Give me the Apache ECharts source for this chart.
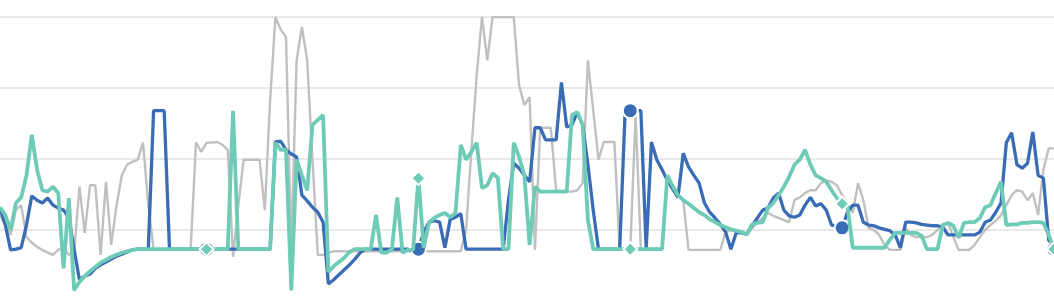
<!DOCTYPE html>
<html>
<head>
<meta charset="utf-8">
<script src="https://cdn.jsdelivr.net/npm/echarts@6/dist/echarts.min.js"></script>
<style>
html,body{margin:0;padding:0;background:#fff;}
#chart{width:1054px;height:297px;}
</style>
</head>
<body>
<div id="chart"></div>
<script>
// ---- data ----
const categories = [];
for (let i = 1; i <= 200; i++) categories.push(String(i));

const yTicks = [0, 100, 200, 300, 400];

const seriesGray = [
  121,107,93,128,135,90,82,76,72,68,
  65,72,75,65,68,161,96,163,163,65,
  168,79,135,177,192,196,199,223,135,73,
  73,73,73,73,73,73,73,223,210,223,
  223,224,220,213,62,135,199,199,199,199,
  128,283,400,382,372,75,339,386,339,199,
  65,65,68,70,70,70,70,70,70,70,
  70,70,70,70,70,70,70,70,70,70,
  70,70,70,70,70,70,70,70,100,213,
  318,400,339,400,400,400,400,400,304,276,
  287,72,244,244,244,156,154,154,154,156,
  166,339,269,199,224,224,224,73,73,73,
  262,73,73,73,73,73,173,159,149,142,
  72,72,72,72,72,72,72,97,100,99,
  97,94,103,111,117,124,120,117,114,111,
  142,146,152,156,156,166,170,168,163,149,
  138,124,166,142,103,100,93,79,72,72,
  72,103,93,90,90,90,93,100,107,110,
  90,72,72,72,79,90,100,107,113,121,
  135,149,156,154,142,152,121,185,215,215
];

const seriesBlue = [
  131,107,72,73,75,107,148,142,138,145,
  135,131,128,117,72,30,35,38,46,51,
  55,59,63,66,69,72,73,73,73,268,
  268,268,73,73,73,73,73,73,73,73,
  73,73,73,73,73,73,73,73,73,73,
  73,73,224,225,213,207,203,149,141,132,
  125,111,24,30,37,44,51,59,68,73,
  73,73,73,73,73,73,73,73,69,73,
  97,111,113,111,75,115,118,123,73,73,
  73,73,73,73,73,73,142,194,187,177,
  168,244,244,227,227,227,308,245,248,266,
  248,192,128,73,73,73,73,73,262,268,
  268,268,73,224,199,185,170,158,146,208,
  189,177,166,138,125,117,108,97,73,96,
  96,94,106,117,128,131,145,152,128,120,
  118,121,135,146,134,137,128,107,106,103,
  125,135,135,111,107,106,103,101,99,93,
  75,111,111,110,108,107,106,106,104,93,
  93,93,93,93,93,97,111,114,125,138,
  223,237,192,187,194,238,177,173,86,73
];

const seriesTeal = [
  132,121,100,138,146,177,234,185,156,154,
  161,152,46,145,15,27,35,42,48,54,
  58,62,65,68,70,72,73,73,73,73,
  73,73,73,73,73,73,73,73,73,73,
  73,73,73,73,268,73,73,73,73,73,
  73,73,223,213,213,15,199,177,156,248,
  255,262,41,49,55,61,69,73,73,73,
  73,121,68,68,73,146,68,72,72,173,
  75,111,117,121,124,118,124,220,199,210,
  223,159,163,180,173,73,73,223,203,177,
  79,161,154,154,154,154,154,154,262,266,
  248,114,73,73,73,73,73,73,73,73,
  73,73,73,73,73,73,177,162,149,142,
  137,131,125,121,115,111,107,104,101,99,
  97,94,108,110,111,131,138,149,161,175,
  192,199,213,192,177,173,168,156,145,137,
  134,75,75,75,75,75,75,75,86,96,
  96,96,96,96,92,73,73,73,107,110,
  106,89,110,111,111,117,132,135,152,168,
  107,108,108,110,110,111,111,110,93,73
];

const markerIndices = [39, 79, 119, 159, 199];

// ---- chart ----
function withMarkers(values, symbol, size) {
  return values.map(function (v, i) {
    if (markerIndices.indexOf(i) >= 0) {
      return { value: v, symbol: symbol, symbolSize: size };
    }
    return { value: v, symbol: 'none' };
  });
}

const chart = echarts.init(document.getElementById('chart'), null, { renderer: 'canvas' });
chart.setOption({
  animation: false,
  backgroundColor: '#ffffff',
  grid: { left: 0, right: 0, top: 17, height: 284, containLabel: false, outerBoundsMode: 'none' },
  xAxis: {
    type: 'category',
    data: categories,
    boundaryGap: false,
    axisLine: { show: false },
    axisTick: { show: false },
    axisLabel: { show: false },
    splitLine: { show: false }
  },
  yAxis: {
    type: 'value',
    min: yTicks[0],
    max: yTicks[yTicks.length - 1],
    interval: yTicks[1] - yTicks[0],
    axisLine: { show: false },
    axisTick: { show: false },
    axisLabel: { show: false },
    splitLine: { show: true, lineStyle: { color: '#e2e2e2', width: 1.6 } }
  },
  series: [
    {
      name: 'Gray',
      type: 'line',
      data: seriesGray,
      showSymbol: false,
      lineStyle: { color: '#c0c0c0', width: 2.4 },
      itemStyle: { color: '#c0c0c0' },
      z: 1
    },
    {
      name: 'Blue',
      type: 'line',
      data: withMarkers(seriesBlue, 'circle', 15),
      showSymbol: true,
      showAllSymbol: true,
      lineStyle: { color: '#3a6cb5', width: 3.3 },
      itemStyle: { color: '#3a6cb5', borderColor: '#ffffff', borderWidth: 2 },
      z: 2
    },
    {
      name: 'Teal',
      type: 'line',
      data: withMarkers(seriesTeal, 'diamond', 14),
      showSymbol: true,
      showAllSymbol: true,
      lineStyle: { color: '#6ecbb7', width: 3.8 },
      itemStyle: { color: '#6ecbb7', borderColor: '#ffffff', borderWidth: 2 },
      z: 3
    }
  ]
});
</script>
</body>
</html>
